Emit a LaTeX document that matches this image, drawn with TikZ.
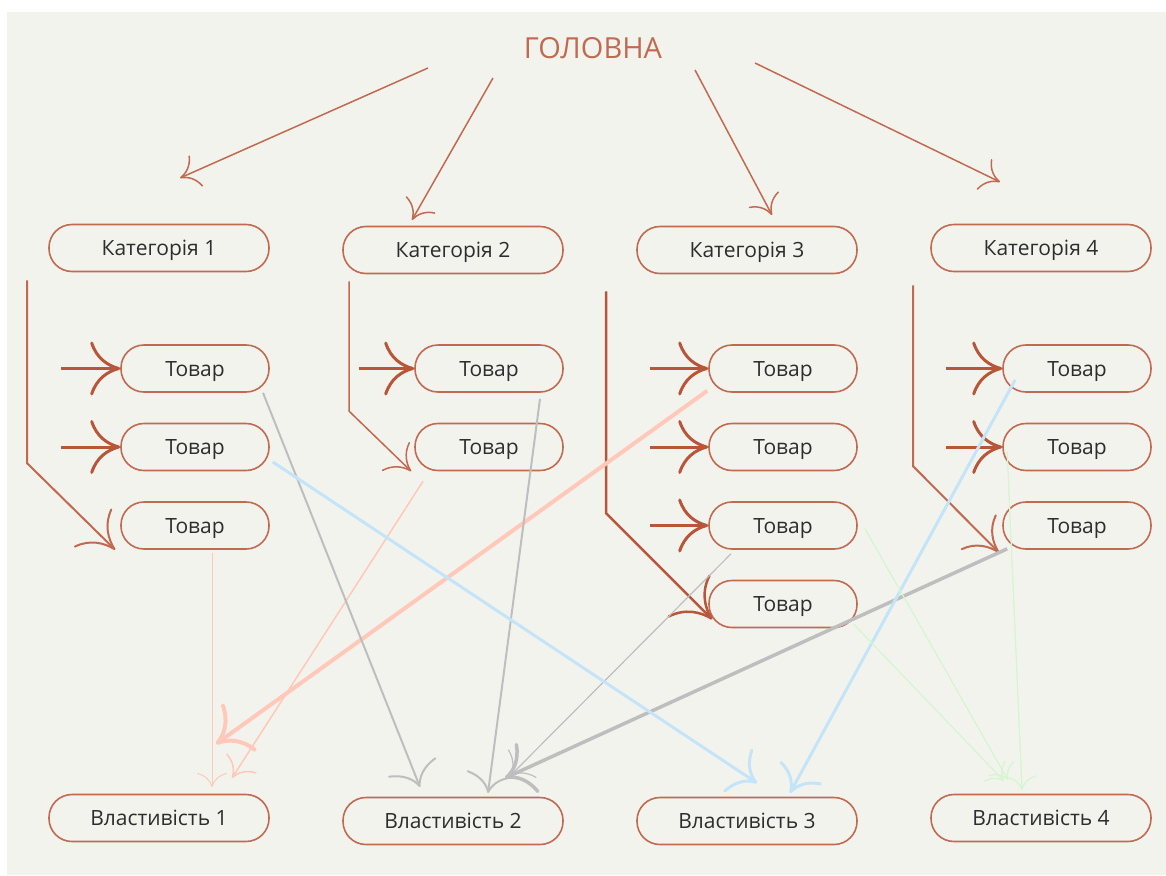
\documentclass[tikz,border=0pt]{standalone}
\usepackage{fontspec}
\setmainfont{Open Sans}
\usetikzlibrary{arrows.meta,positioning,calc}
\definecolor{paper}{RGB}{243,243,238}
\definecolor{rust}{RGB}{194,106,80}
\definecolor{rustdark}{RGB}{184,86,58}
\definecolor{ink}{RGB}{45,45,45}
\definecolor{linkgray}{RGB}{190,190,190}
\definecolor{linkpink}{RGB}{255,200,184}
\definecolor{linkblue}{RGB}{196,228,248}
\definecolor{linkgreen}{RGB}{212,246,206}

\begin{document}
\begin{tikzpicture}[x=1pt,y=-1pt,font=\fontsize{21}{25}\selectfont,
  pill/.style={draw=rust,line width=1.6pt,rounded corners=23pt,minimum height=47pt,text=ink,inner sep=0pt,text height=15pt,text depth=0pt},
  catbox/.style={pill,minimum width=220pt},
  itembox/.style={pill,minimum width=148pt},
  cm/.style 2 args={-{Computer Modern Rightarrow[length=#1,width=#2]}},
  lead/.style={draw=rust,line width=1.5pt,cm={18pt}{34pt}},
  feed/.style={draw=rustdark,line width=3pt,cm={30pt}{54pt}}]
\useasboundingbox (0,0) rectangle (1166,875);
\fill[paper] (7,12) rectangle (1166,875);
% levels
\node[font=\fontsize{29}{34}\selectfont,text=rust] (main) at (593,48) {ГОЛОВНА};
\foreach \i/\x/\y in {1/159/248,2/453/250,3/747/250,4/1041/248} \node[catbox] (cat\i) at (\x,\y) {Категорія \i};
\foreach \c/\x/\n in {1/195/3,2/489/2,3/783/4,4/1077/3} {\foreach \r in {1,...,\n} \node[itembox] (t\c\r) at (\x,{290+78.5*\r}) {Товар};}
\foreach \i/\x/\y in {1/159/818,2/453/821,3/747/821,4/1041/818} \node[catbox] (prop\i) at (\x,\y) {Властивість \i};
% main -> categories
\foreach \i/\a/\b/\p/\q in {1/428/68/180/178,2/493/78/412/220,3/695/70/772/215,4/755/63/1000/182} {\coordinate (h\i) at (\a,\b); \coordinate (k\i) at (\p,\q); \draw[lead] (h\i) -- (k\i);}
% categories -> items
\draw[rust,line width=2pt,cm={32pt}{54pt}] ([xshift=-21pt,yshift=-8pt]cat1.south west) -- ++(0,183) -- ([xshift=-5pt]t13.south west);
\draw[rust,line width=1.5pt,cm={22pt}{40pt}] ([xshift=7pt,yshift=-7pt]cat2.south west) -- ++(0,130) -- ([xshift=-3pt]t22.south west);
\draw[rustdark,line width=2.5pt,cm={34pt}{60pt}] ([xshift=-30pt,yshift=-17pt]cat3.south west) -- ++(0,222) -- ([xshift=4pt,yshift=9pt]t34.south west);
\draw[rust,line width=2pt,cm={30pt}{50pt}] ([xshift=-17pt,yshift=-13pt]cat4.south west) -- ++(0,181) -- ([xshift=-3pt,yshift=-3pt]t43.south west);
\foreach \b/\d in {t11/59,t12/59,t21/55,t31/58,t32/58,t33/58,t41/56,t42/56} \draw[feed] ([xshift=-\d pt]\b.west) -- (\b.west);
% items -> properties
\foreach \n/\x/\y in {a1/212/787,b1/232/778,c1/216/744,a2/420/787,b2/488/793,c2/510/776,d2/505/778,a3/757/783,b3/790/793,a4/1008/780,b4/1004/781,c4/1022/790} \coordinate (\n) at (\x,\y);
\draw[linkpink,line width=1pt,cm={14pt}{30pt}] ([xshift=17pt,yshift=-3pt]t13.south) -- (a1);
\draw[linkpink,line width=1.5pt,cm={18pt}{36pt}] ([xshift=-66pt,yshift=-10pt]t22.south) -- (b1);
\draw[linkpink,line width=4pt,cm={30pt}{58pt}] ([xshift=-1pt,yshift=2pt]t31.south west) -- (c1);
\draw[linkgray,line width=2pt,cm={22pt}{52pt}] ([xshift=68pt]t11.south) -- (a2);
\draw[linkgray,line width=2pt,cm={20pt}{48pt}] ([xshift=51pt,yshift=-6pt]t21.south) -- (b2);
\draw[linkgray,line width=1.2pt,cm={18pt}{40pt}] ([xshift=-52pt,yshift=-4pt]t33.south) -- (c2);
\draw[linkgray,line width=3.5pt,cm={26pt}{55pt}] ([xshift=5pt,yshift=1pt]t43.south west) -- (d2);
\draw[linkblue,line width=3pt,cm={24pt}{52pt}] ([xshift=3pt,yshift=-15pt]t12.east) -- (a3);
\draw[linkblue,line width=3pt,cm={24pt}{48pt}] ([xshift=13pt,yshift=13pt]t41.south west) -- (b3);
\draw[linkgreen,line width=1.2pt,cm={14pt}{30pt}] ([xshift=7pt,yshift=-3pt]t33.east) -- (a4);
\draw[linkgreen,line width=1.2pt,cm={14pt}{30pt}] ([xshift=-4pt,yshift=4pt]t34.south east) -- (b4);
\draw[linkgreen,line width=1.2pt,cm={14pt}{30pt}] ([xshift=5pt,yshift=-5pt]t42.west) -- (c4);
\end{tikzpicture}
\end{document}
